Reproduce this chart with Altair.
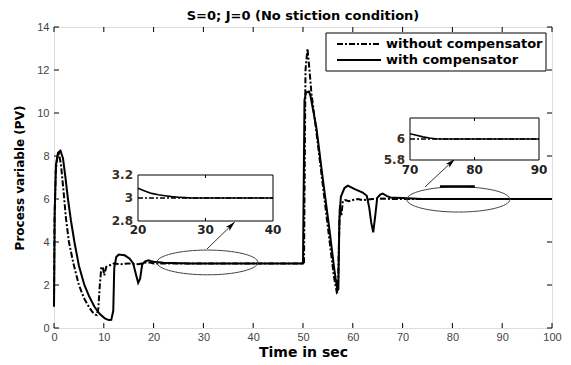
import altair as alt
import pandas as pd

# ---------------- data ----------------
t_with = [0.0, 0.15, 0.4, 0.8, 1.3, 1.8, 2.3, 2.8, 3.4, 4.1,
          5.0, 6.1, 7.1, 8.1, 9.2, 10.2, 11.0, 11.5, 11.9, 12.1,
          12.5, 13.0, 14.2, 15.2, 15.9, 16.5, 16.9, 17.3, 17.7, 18.3,
          19.0, 19.6, 20.0, 21.0, 22.0, 23.0, 24.0, 25.0, 26.0, 27.0,
          28.0, 30.0, 50.0, 50.3, 50.6, 51.2, 51.5, 52.7, 54.0, 55.3,
          56.3, 56.9, 57.1, 57.3, 57.6, 58.3, 59.0, 60.5, 62.0, 62.8,
          63.3, 63.7, 64.1, 64.5, 64.9, 65.5, 66.0, 66.8, 67.5, 68.5,
          70.0, 71.0, 72.0, 73.0, 74.0, 75.0, 100.0]
v_with = [1.0, 5.5, 7.6, 8.15, 8.25, 7.9, 7.0, 6.0, 5.0, 4.0,
          2.9, 2.0, 1.45, 1.0, 0.65, 0.45, 0.37, 0.38, 0.8, 2.8,
          3.3, 3.42, 3.38, 3.22, 3.0, 2.45, 2.1, 2.3, 2.95, 3.1,
          3.15, 3.1, 3.085, 3.06, 3.04, 3.028, 3.02, 3.012, 3.007, 3.003,
          3.0, 3.0, 3.0, 10.6, 10.95, 11.0, 10.8, 9.3, 6.9, 4.6,
          2.7, 1.75, 1.8, 5.0, 6.1, 6.5, 6.62, 6.45, 6.3, 6.15,
          5.6, 4.9, 4.45, 5.2, 6.05, 6.2, 6.25, 6.15, 6.07, 6.06,
          6.05, 6.035, 6.02, 6.01, 6.003, 6.0, 6.0]

t_without = [0.0, 0.1, 0.35, 0.7, 1.0, 1.4, 1.9, 2.4, 3.0, 3.9,
             5.0, 6.0, 7.1, 7.8, 8.3, 8.6, 8.9, 9.2, 9.5, 9.8,
             10.1, 10.5, 11.0, 12.0, 13.5, 15.0, 17.0, 18.5, 19.5, 20.0,
             50.0, 50.2, 50.5, 50.9, 51.3, 51.7, 52.7, 54.0, 55.2, 56.2,
             56.8, 57.0, 57.2, 57.4, 57.7, 58.0, 58.5, 59.2, 60.0, 61.0,
             62.0, 64.0, 66.0, 68.0, 70.0, 100.0]
v_without = [1.0, 5.0, 7.3, 8.0, 8.1, 7.6, 6.4, 5.1, 4.0, 3.0,
             2.0, 1.4, 0.95, 0.72, 0.62, 0.6, 0.9, 2.0, 2.8, 2.85,
             2.45, 2.85, 2.9, 3.0, 2.97, 3.0, 2.97, 3.05, 3.03, 3.0,
             3.0, 3.0, 12.0, 13.0, 12.0, 10.9, 9.1, 6.6, 4.3, 2.4,
             1.65, 1.7, 3.8, 5.7, 5.2, 5.9, 5.95, 5.9, 5.95, 6.0,
             5.95, 6.0, 6.02, 6.0, 6.0, 6.0]

# inset 1 (20-40 s, 2.8-3.2)
in1_t_with = [20, 21, 22, 23, 24, 25, 26, 27, 28, 40]
in1_v_with = [3.085, 3.06, 3.04, 3.028, 3.02, 3.012, 3.007, 3.003, 3.0, 3.0]
in1_t_without = [20, 40]
in1_v_without = [3.0, 3.0]
in1_xticks = [20, 30, 40]
in1_yticks = [2.8, 3.0, 3.2]
in1_ylabels = ["2.8", "3", "3.2"]

# inset 2 (70-90 s, 5.8-6.2)
in2_t_with = [70, 71, 72, 73, 74, 75, 90]
in2_v_with = [6.05, 6.035, 6.02, 6.01, 6.003, 6.0, 6.0]
in2_t_without = [70, 90]
in2_v_without = [6.0, 6.0]
in2_xticks = [70, 80, 90]
in2_yticks = [5.8, 6.0]
in2_ylabels = ["5.8", "6"]

x_ticks = list(range(0, 101, 10))
y_ticks = list(range(0, 15, 2))

# annotations (main data coordinates)
ell_t = [30.8, 81.2]
ell_v = [3.05, 5.98]
ell_size = [10201, 10609]
arrow_t0 = [30.7, 74.5]
arrow_v0 = [3.67, 6.56]
arrow_t1 = [36.3, 80.5]
arrow_v1 = [4.93, 7.86]
arrow_ang = [46, 47]
mark_t0 = [77.5]
mark_t1 = [84.5]
mark_v = [6.58]

legend_labels = ["without compensator", "with compensator"]
title_text = "S=0; J=0 (No stiction condition)"

# ---------------- chart ----------------
W, H = 498, 301
DASH = [6, 2, 2, 2]
ELLIPSE = ("M -1 0 C -1 -0.135 -0.552 -0.245 0 -0.245 C 0.552 -0.245 1 -0.135 1 0 "
           "C 1 0.135 0.552 0.245 0 0.245 C -0.552 0.245 -1 0.135 -1 0 Z")
ARROWHEAD = "M 0 0 L 0.45 1.7 L 0 1.3 L -0.45 1.7 Z"


def xs():
    return alt.Scale(domain=[0, 100], nice=False, zero=False)


def ys():
    return alt.Scale(domain=[0, 14], nice=False, zero=False)


df_with = pd.DataFrame({"t": t_with, "v": v_with, "i": range(len(t_with))})
df_without = pd.DataFrame({"t": t_without, "v": v_without, "i": range(len(t_without))})

x_axis = alt.Axis(values=x_ticks, title="Time in sec", titleFont="DejaVu Sans",
                  titleFontSize=14, titleFontWeight="bold", titleColor="black",
                  titlePadding=3, labelFont="Liberation Sans", labelFontSize=11,
                  labelColor="#444", labelPadding=3, ticks=False, tickSize=0,
                  domain=False, grid=False, labelFlush=False, orient="bottom")
y_axis = alt.Axis(values=y_ticks, title="Process variable (PV)", titleFont="DejaVu Sans",
                  titleFontSize=12, titleFontWeight="bold", titleColor="black",
                  titlePadding=10, labelFont="Liberation Sans", labelFontSize=11,
                  labelColor="#444", labelPadding=5, ticks=False, tickSize=0,
                  domain=False, grid=False, labelFlush=False, orient="left")

layers = []

layers.append(alt.Chart(df_without).mark_line(
    color="black", strokeWidth=2, strokeDash=DASH).encode(
    x=alt.X("t:Q", scale=xs(), axis=x_axis),
    y=alt.Y("v:Q", scale=ys(), axis=y_axis),
    order="i:Q"))
layers.append(alt.Chart(df_with).mark_line(color="black", strokeWidth=2).encode(
    x=alt.X("t:Q", scale=xs(), axis=None),
    y=alt.Y("v:Q", scale=ys(), axis=None),
    order="i:Q"))

xt = pd.DataFrame({"tx": x_ticks})
yt = pd.DataFrame({"ty": y_ticks})
for y0, y1 in [(H, H - 5), (0, 5)]:
    layers.append(alt.Chart(xt).mark_rule(color="black", strokeWidth=1).encode(
        x=alt.X("tx:Q", scale=xs(), axis=None), y=alt.value(y0), y2=alt.value(y1)))
for x0, x1 in [(0, 5), (W, W - 5)]:
    layers.append(alt.Chart(yt).mark_rule(color="black", strokeWidth=1).encode(
        y=alt.Y("ty:Q", scale=ys(), axis=None), x=alt.value(x0), x2=alt.value(x1)))

df_ell = pd.DataFrame({"t": ell_t, "v": ell_v, "s": ell_size})
layers.append(alt.Chart(df_ell).mark_point(
    shape=ELLIPSE, filled=False, stroke="#444", strokeWidth=1, opacity=1).encode(
    x=alt.X("t:Q", scale=xs(), axis=None), y=alt.Y("v:Q", scale=ys(), axis=None),
    size=alt.Size("s:Q", scale=None, legend=None)))

layers.append(alt.Chart(pd.DataFrame({"t0": mark_t0, "t1": mark_t1, "v": mark_v})).mark_rule(
    color="black", strokeWidth=2.5).encode(
    x=alt.X("t0:Q", scale=xs(), axis=None), x2="t1:Q",
    y=alt.Y("v:Q", scale=ys(), axis=None)))

df_arr = pd.DataFrame({"t0": arrow_t0, "v0": arrow_v0, "t1": arrow_t1,
                       "v1": arrow_v1, "a": arrow_ang})
layers.append(alt.Chart(df_arr).mark_rule(color="#333", strokeWidth=1).encode(
    x=alt.X("t0:Q", scale=xs(), axis=None), y=alt.Y("v0:Q", scale=ys(), axis=None),
    x2="t1:Q", y2="v1:Q"))
layers.append(alt.Chart(df_arr).mark_point(
    shape=ARROWHEAD, filled=True, color="black", opacity=1, size=140).encode(
    x=alt.X("t1:Q", scale=xs(), axis=None), y=alt.Y("v1:Q", scale=ys(), axis=None),
    angle=alt.Angle("a:Q", scale=None)))


def inset(t_w, v_w, t_wo, v_wo, xdom, ydom, xr, yr, xticks, yticks, ylabels, lab_dy):
    def sx():
        return alt.Scale(domain=xdom, range=xr, nice=False, zero=False)

    def sy():
        return alt.Scale(domain=ydom, range=yr, nice=False, zero=False)

    out = []
    out.append(alt.Chart(pd.DataFrame({"x0": [xdom[0]], "x1": [xdom[1]],
                                       "y0": [ydom[0]], "y1": [ydom[1]]})).mark_rect(
        fill="white", stroke="black", strokeWidth=1).encode(
        x=alt.X("x0:Q", scale=sx(), axis=None), x2="x1:Q",
        y=alt.Y("y0:Q", scale=sy(), axis=None), y2="y1:Q"))
    out.append(alt.Chart(pd.DataFrame({"t": t_wo, "v": v_wo})).mark_line(
        color="black", strokeWidth=1.6, strokeDash=[5, 2, 2, 2]).encode(
        x=alt.X("t:Q", scale=sx(), axis=None), y=alt.Y("v:Q", scale=sy(), axis=None)))
    out.append(alt.Chart(pd.DataFrame({"t": t_w, "v": v_w})).mark_line(
        color="black", strokeWidth=1.6).encode(
        x=alt.X("t:Q", scale=sx(), axis=None), y=alt.Y("v:Q", scale=sy(), axis=None)))
    mid = pd.DataFrame({"m": [xticks[1]]})
    out.append(alt.Chart(mid).mark_rule(color="black").encode(
        x=alt.X("m:Q", scale=sx(), axis=None), y=alt.value(yr[1]), y2=alt.value(yr[1] + 3)))
    out.append(alt.Chart(mid).mark_rule(color="black").encode(
        x=alt.X("m:Q", scale=sx(), axis=None), y=alt.value(yr[0]), y2=alt.value(yr[0] - 3)))
    out.append(alt.Chart(pd.DataFrame({"x": xticks, "lab": [str(v) for v in xticks]})).mark_text(
        font="DejaVu Sans", fontSize=12, fontWeight="bold", color="#222",
        baseline="top", align="center").encode(
        x=alt.X("x:Q", scale=sx(), axis=None), y=alt.value(yr[0] + lab_dy), text="lab:N"))
    out.append(alt.Chart(pd.DataFrame({"y": yticks, "lab": ylabels})).mark_text(
        font="DejaVu Sans", fontSize=12, fontWeight="bold", color="#3a2f22",
        baseline="middle", align="right").encode(
        y=alt.Y("y:Q", scale=sy(), axis=None), x=alt.value(xr[0] - 5), text="lab:N"))
    return out


layers += inset(in1_t_with, in1_v_with, in1_t_without, in1_v_without,
                [20, 40], [2.8, 3.2], [84, 219], [194, 148],
                in1_xticks, in1_yticks, in1_ylabels, 4)
layers += inset(in2_t_with, in2_v_with, in2_t_without, in2_v_without,
                [70, 90], [5.8, 6.2], [356, 485], [133, 91],
                in2_xticks, in2_yticks, in2_ylabels, 5)

# legend box
one = pd.DataFrame({"a": [0]})
layers.append(alt.Chart(one).mark_rect(fill="white", stroke="black", strokeWidth=1).encode(
    x=alt.value(272), x2=alt.value(492), y=alt.value(6), y2=alt.value(44)))
layers.append(alt.Chart(one).mark_rule(color="black", strokeWidth=2, strokeDash=DASH).encode(
    x=alt.value(283), x2=alt.value(327), y=alt.value(17)))
layers.append(alt.Chart(one).mark_rule(color="black", strokeWidth=2).encode(
    x=alt.value(283), x2=alt.value(327), y=alt.value(33)))
layers.append(alt.Chart(pd.DataFrame({"lab": legend_labels, "k": [0, 1]})).mark_text(
    font="DejaVu Sans", fontSize=13, fontWeight="bold", color="black",
    align="left", baseline="middle").encode(
    x=alt.value(332),
    y=alt.Y("k:Q", scale=alt.Scale(domain=[0, 1], range=[17, 33], nice=False, zero=False),
            axis=None),
    text="lab:N"))

chart = alt.layer(*layers).resolve_scale(
    x="independent", y="independent").properties(
    width=W, height=H,
    title=alt.TitleParams(title_text, font="DejaVu Sans", fontSize=13, fontWeight="bold",
                          color="black", anchor="middle", frame="group", offset=-2),
    autosize=alt.AutoSizeParams(type="none"),
    padding={"left": 46, "top": 19, "right": 11, "bottom": 37},
).configure_view(stroke="black", strokeWidth=1).configure(background="white")

chart.save("out.html", embed_options={"renderer": "svg", "actions": False})
